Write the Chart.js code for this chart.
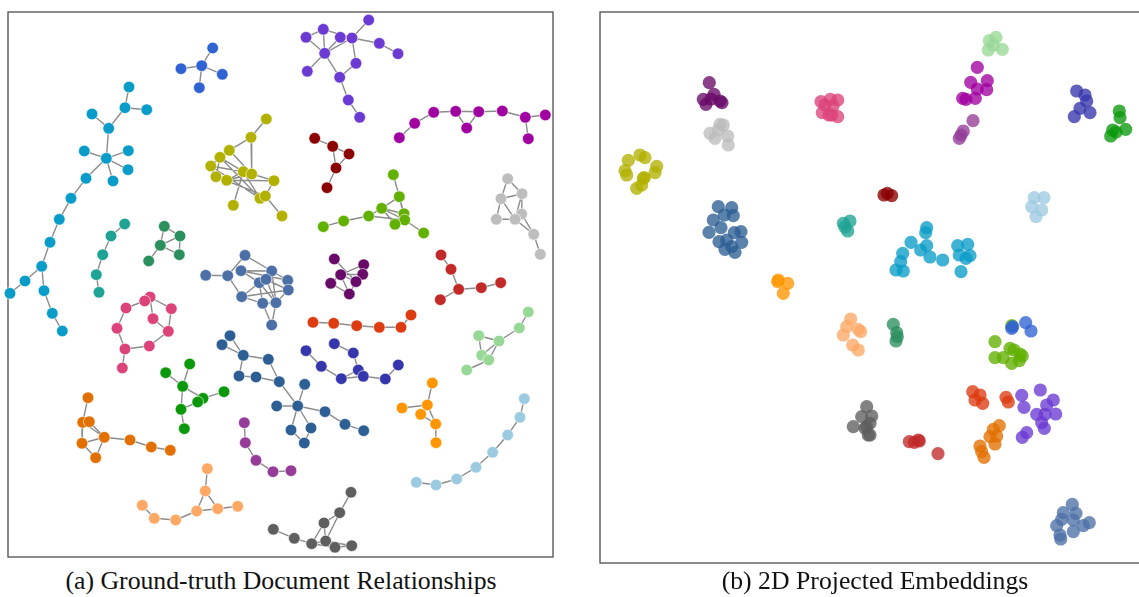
<!DOCTYPE html>
<html>
<head>
<meta charset="utf-8">
<script src="https://cdn.jsdelivr.net/npm/chart.js@4.4.0/dist/chart.umd.min.js"></script>
<style>
  html, body { margin: 0; padding: 0; background: #fff; overflow: hidden; }
  body { width: 1139px; height: 597px; position: relative; }
  canvas { position: absolute; }
  #graphCanvas { left: 0; top: 0; }
  #embedCanvas { left: 590px; top: 0; }
  .caption {
    position: absolute; top: 566px; font-family: 'Liberation Serif', 'DejaVu Serif', serif;
    font-size: 26px; line-height: 30px; color: #111; white-space: nowrap;
    transform: translateX(-50%) scaleX(0.99);
  }
</style>
</head>
<body>
<canvas id="graphCanvas" width="565" height="565"></canvas>
<canvas id="embedCanvas" width="570" height="575"></canvas>
<div class="caption" style="left:281px">(a) Ground-truth Document Relationships</div>
<div class="caption" style="left:875px">(b) 2D Projected Embeddings</div>
<script>
// cluster colours (shared by both panels)
const cBlue = '#2f63d3', cCyan = '#0a9cc8', cTeal = '#1fa394', cSea = '#2b8f5e';
const cOlive = '#b2b100', cSteel = '#4c70a6', cDarkSteel = '#2d5f94', cPurple = '#6a3ad2';
const cMagenta = '#a0009f', cDarkRed = '#8b0000', cYGreen = '#62b000', cLGray = '#bdbdbd';
const cRed = '#c22a2a', cDPurple = '#680a68', cPink = '#dc437b', cGreen = '#0b990b';
const cDOrange = '#e27000', cPlum = '#953c99', cLOrange = '#fda865', cDGray = '#5f5f5f';
const cORed = '#dd3b10', cDBlue = '#3636ac', cLGreen = '#98d896', cOrange = '#ff9600';
const cLBlue = '#9ccae0';

// (a) graph: node positions and edges (index pairs)
const gBlue = [[201.7,65.7],[212.7,48],[181,68.7],[222.3,74.3],[199.3,87.7]];
const gBlueE = [[0,1],[0,2],[0,3],[0,4]];
const gCyan = [[129,87],[125,107.7],[146.7,109.7],[92,114],[108.7,128.3],[106.3,158.3],[84.3,151],[128.3,150.7],[128,169.7],[113,181],[86,178.3],[71,198.3],[59.3,219.3],[50,242.3],[41.7,266.3],[25,281],[10,293.3],[44,290.7],[52.3,313.3],[62.3,331]];
const gCyanE = [[0,1],[1,2],[1,4],[3,4],[4,5],[5,6],[5,7],[5,8],[5,9],[5,10],[10,11],[11,12],[12,13],[13,14],[14,15],[15,16],[14,17],[17,18],[18,19]];
const gTeal = [[124.7,224],[111,236],[102.7,254.7],[96.3,274.7],[99,292.3]];
const gTealE = [[0,1],[1,2],[2,3],[3,4]];
const gSea = [[164.3,226.3],[180,236],[160.3,245.3],[179.3,254.7],[148.7,261]];
const gSeaE = [[0,1],[0,2],[1,2],[2,3],[1,3],[2,4]];
const gOlive = [[266.3,119],[251,137.3],[229.3,150.3],[220,157.3],[210.7,166],[216,176.7],[226.7,180.3],[243.3,171.7],[251.7,174],[274,180.7],[260,198.3],[265.3,196],[233.3,205.3],[282,216]];
const gOliveE = [[0,1],[1,2],[1,8],[2,3],[3,4],[4,5],[5,6],[6,7],[7,8],[8,9],[9,11],[11,10],[10,7],[7,12],[11,13],[3,7],[2,8],[4,10],[5,11],[6,9],[3,5],[2,4],[6,8],[4,7],[3,10]];
const gPurple = [[368.7,20],[323.3,29.3],[306,37.3],[340.3,37.3],[352,38],[379.3,43.3],[398,53.7],[324.7,53.3],[307.3,71.3],[356,63.3],[339.7,77.3],[348.3,100],[359.7,117.3]];
const gPurpleE = [[0,4],[2,1],[1,4],[1,7],[2,7],[3,7],[4,7],[4,5],[5,6],[7,8],[7,10],[4,9],[9,10],[10,11],[11,12]];
const gMagenta = [[399.3,137.7],[414.7,123.3],[433.7,112.3],[455.7,111.3],[466.7,128],[478.7,111.7],[502.3,111],[525.3,117.3],[545.3,115],[528.3,138.7]];
const gMagentaE = [[0,1],[1,2],[2,3],[3,5],[5,6],[6,7],[7,8],[3,4],[4,5],[7,9]];
const gDarkRed = [[314.7,138.3],[332.7,146.3],[349,154],[336,168],[327,187.7]];
const gDarkRedE = [[0,1],[1,2],[1,3],[2,3],[3,4]];
const gYGreen = [[393.3,174.7],[399.3,196.7],[381.7,208.3],[404,213.7],[404.7,220],[395,224.3],[368.7,216],[343.7,221],[323.3,226.7],[423.7,233]];
const gYGreenE = [[0,1],[1,2],[1,3],[2,3],[2,5],[2,6],[6,7],[7,8],[4,9],[1,4],[3,5],[6,4],[2,4],[5,4]];
const gLGray = [[507.7,178.7],[522,193.7],[501,198.7],[521.7,214],[515,219.3],[496.3,219.3],[533.7,234.3],[540.3,254.3]];
const gLGrayE = [[0,1],[0,2],[2,1],[2,5],[2,4],[1,3],[3,4],[5,4],[4,6],[3,6],[6,7],[1,4]];
const gRed = [[441,255],[451,269.3],[458.7,289.3],[440.3,299.7],[481.3,287.7],[500.7,282.7]];
const gRedE = [[0,1],[1,2],[2,3],[2,4],[4,5]];
const gSteel = [[245,255.3],[205.7,275.3],[227.7,275.7],[241,270.7],[271.7,271],[259.3,282.7],[266,279.3],[287.7,280.3],[288.3,290],[241.7,296.7],[262.7,303.3],[276,302.7],[271.7,325]];
const gSteelE = [[1,2],[2,0],[2,9],[3,5],[0,4],[9,5],[9,10],[5,6],[6,4],[4,7],[7,8],[6,8],[5,10],[10,11],[11,8],[6,11],[4,11],[10,12],[11,12],[3,7],[5,11],[9,8],[3,4]];
const gDPurple = [[334.3,259],[363.7,264.7],[340.7,274.7],[362.7,274.3],[356,281.7],[330.7,283.3],[349.3,294]];
const gDPurpleE = [[0,4],[2,1],[2,3],[2,5],[2,4],[3,4],[1,3],[4,6],[5,6],[2,6]];
const gPink = [[150,297],[144.7,301],[126,308],[171.3,308.7],[153,318.7],[117,328.3],[168.3,331.3],[125,349],[149.3,346],[122.3,368]];
const gPinkE = [[0,1],[0,3],[1,2],[0,4],[2,5],[5,7],[7,8],[8,6],[6,3],[4,6],[7,9]];
const gGreen = [[189.7,364],[165.7,372.7],[182.7,386.3],[224,391.7],[203,398.3],[197.7,402],[181,409.3],[184.3,428.7]];
const gGreenE = [[0,2],[1,2],[2,4],[2,6],[6,5],[5,4],[4,3],[6,7]];
const gDOrange = [[88,397.7],[82.7,422.3],[89.3,421.7],[104.3,437.3],[82,443.3],[95.7,457.7],[130,440],[151.3,447],[170.3,450.3]];
const gDOrangeE = [[0,1],[1,2],[1,4],[2,3],[1,3],[4,3],[4,5],[5,3],[3,6],[6,7],[7,8]];
const gDarkSteel = [[230,335.7],[222,344.7],[243.3,355.3],[268.3,359.3],[239,376],[256,377],[279.3,381.7],[304.7,384.3],[276.7,406],[297.7,406],[325,411.7],[345,424.3],[363.7,430.7],[291,430],[311,428],[304.3,443]];
const gDarkSteelE = [[0,1],[0,2],[1,2],[2,3],[2,4],[4,5],[5,6],[3,6],[6,9],[9,7],[9,8],[9,10],[10,11],[11,12],[9,13],[9,14],[13,15],[14,15]];
const gPlum = [[244.3,422.7],[245.3,442.7],[256,460.3],[273,471.7],[291,470.7]];
const gPlumE = [[0,1],[1,2],[2,3],[3,4]];
const gLOrange = [[207.3,468.7],[205.3,491],[196.7,511],[217.7,508.7],[237.7,506.3],[142.3,505.3],[154.3,518.3],[175.7,520]];
const gLOrangeE = [[0,1],[1,2],[1,3],[2,3],[3,4],[2,7],[7,6],[6,5]];
const gDGray = [[351,492.3],[339.7,512.7],[324,523],[273.3,529.3],[294.3,538.3],[311.7,543.7],[325.7,541],[335,547.3],[351.7,545.7]];
const gDGrayE = [[0,1],[1,2],[2,6],[1,6],[2,5],[3,4],[4,5],[5,6],[6,7],[7,8],[5,7],[6,8]];
const gORed = [[313,322.3],[333.7,323.3],[356.7,325.7],[379.3,327.3],[401,327.3],[411,315]];
const gORedE = [[0,1],[1,2],[2,3],[3,4],[4,5]];
const gDBlue = [[306,350.7],[321.3,366.3],[341.3,378.7],[334.3,343.7],[353.3,353],[358.3,370],[363.3,376.3],[385.3,379],[398.3,365]];
const gDBlueE = [[0,1],[1,2],[3,4],[4,5],[2,5],[2,6],[5,6],[6,7],[7,8]];
const gLGreen = [[528.3,312],[519.3,328],[478.7,335.7],[499,341],[481.7,355.3],[488.7,360],[466.7,370]];
const gLGreenE = [[0,1],[1,3],[3,2],[2,4],[3,5],[3,4],[4,5],[5,6]];
const gOrange = [[432.3,383],[402,408],[427.3,405],[420.7,414.3],[435.7,424],[436,442.7]];
const gOrangeE = [[0,2],[2,1],[2,3],[3,4],[2,4],[4,5]];
const gLBlue = [[524.3,398.7],[520,417.3],[507.7,435],[492.7,452.3],[476,467.3],[456.7,479],[436,485],[416.3,482.3]];
const gLBlueE = [[0,1],[1,2],[2,3],[3,4],[4,5],[5,6],[6,7]];

// (b) projected embeddings
const eDPurple = [[709.3,82.7],[714,94.3],[703.3,99.3],[706,104.3],[720,101],[722,102.7],[711,99]];
const ePink = [[821,101.7],[830.3,99.3],[837.7,100],[833,106],[822.3,112.7],[829,115],[837.7,116.7],[831.7,115],[825,105]];
const eLGray = [[720,124.3],[723.3,125],[710,133.3],[715,138.3],[727.7,136],[728.3,145],[718.3,130]];
const eOlive = [[628.3,160.3],[640,155],[645,157.7],[656.7,166.3],[655,172.7],[625,170.7],[626.7,175],[643.3,178.3],[641.7,185],[636.7,188.3],[644.3,177.7]];
const eSteel = [[718.3,206.7],[731.7,207.7],[724.3,215],[733.3,215.7],[713.3,220],[721,227.7],[709,232.3],[734.3,232.7],[741,231.7],[719,241.7],[726.7,240],[741.7,242.3],[725,249.3],[735,252.3],[731.7,246.7]];
const eTeal = [[843.3,223.3],[850,221],[847.7,231],[845,227]];
const eOrange = [[778.3,280],[777.7,281.7],[787.7,283.3],[783.3,293.3]];
const eLGreen = [[996,37.3],[989.3,40.7],[988.3,50],[1002.3,49.3],[993.3,45]];
const eMagenta = [[977.3,67.3],[970.7,82.3],[987.3,80.7],[977.3,89],[986.7,89.7],[962.7,98.3],[966,99.3],[975.3,98.3]];
const ePlum = [[973,120.7],[963.3,131],[959.3,138.3],[961,135]];
const eDBlue = [[1076.7,91],[1085,95],[1086.7,101],[1080,108.3],[1074.3,116.7],[1090,112.7]];
const eGreen = [[1119.3,111],[1120,117.7],[1112.7,130],[1125.7,129.3],[1110.7,136],[1116,132]];
const eDarkRed = [[887.3,193.3],[884,195],[891.7,195.7]];
const eLBlue = [[1034.3,197.7],[1044,197.7],[1031.7,206.7],[1041.7,210],[1036,216.7]];
const eCyan = [[926.7,227.7],[925.7,232.7],[911,242.3],[926.7,245.7],[920.7,250],[930,257],[942.7,260],[902.7,253.3],[900.7,261.7],[896,270],[903.3,271],[957.7,245.7],[967.7,244.3],[959.3,255],[966,258.3],[970,255.7],[961,271.7]];
const eLOrange = [[850.7,319],[846.7,326.7],[843.3,335],[858.3,329.3],[860.7,331.7],[852.7,345],[858.3,350]];
const eDGray = [[866.7,406.7],[861.7,416.7],[853.3,426.7],[866.7,426.7],[868.3,435],[871.7,416],[870,423.3],[865,428.3],[870,435]];
const eSea = [[893.3,324.3],[896.7,332.7],[896,341],[897.3,336.7]];
const eBlue = [[1011.7,328.3],[1025.7,322.7],[1031,331],[1012.7,326.7]];
const eYGreen = [[1011.7,325.7],[995,341.7],[1010,348.3],[1020,354],[1022.3,356],[995,357.7],[1003.3,357.7],[1011.7,363.3],[1019.3,360.7],[1014,350]];
const eORed = [[972.7,391.7],[980,395],[975,400],[982.7,403.3],[1006,397.3],[1008.3,402]];
const ePurple = [[1040.3,390],[1021.7,395.3],[1053.3,400],[1046.7,405],[1024,407.3],[1036.7,414.3],[1045,414.3],[1055.7,414],[1041.7,422.7],[1044.3,428.3],[1026.7,432.7],[1022.3,437.3]];
const eDOrange = [[999.3,425.7],[993.3,429.3],[990,436.7],[996.7,436],[995,444],[980,446],[981.7,451.7],[984,457.3]];
const eRed = [[909.3,441.7],[914.3,442.3],[919.3,441],[918.3,440],[938,453.7]];
const eSlate = [[1072.3,504.3],[1063.3,512.7],[1076,513.3],[1073.3,520],[1056.7,525.7],[1083.3,525.7],[1089.3,522.7],[1073.3,531.7],[1060,535],[1060.7,539],[1061.7,519.3]];

const graphGroups = [
  [gBlue, gBlueE, cBlue], [gCyan, gCyanE, cCyan], [gTeal, gTealE, cTeal], [gSea, gSeaE, cSea],
  [gOlive, gOliveE, cOlive], [gPurple, gPurpleE, cPurple], [gMagenta, gMagentaE, cMagenta],
  [gDarkRed, gDarkRedE, cDarkRed], [gYGreen, gYGreenE, cYGreen], [gLGray, gLGrayE, cLGray],
  [gRed, gRedE, cRed], [gSteel, gSteelE, cSteel], [gDPurple, gDPurpleE, cDPurple],
  [gPink, gPinkE, cPink], [gGreen, gGreenE, cGreen], [gDOrange, gDOrangeE, cDOrange],
  [gDarkSteel, gDarkSteelE, cDarkSteel], [gPlum, gPlumE, cPlum], [gLOrange, gLOrangeE, cLOrange],
  [gDGray, gDGrayE, cDGray], [gORed, gORedE, cORed], [gDBlue, gDBlueE, cDBlue],
  [gLGreen, gLGreenE, cLGreen], [gOrange, gOrangeE, cOrange], [gLBlue, gLBlueE, cLBlue]
];

const embedGroups = [
  [eBlue, cBlue], [eDPurple, cDPurple], [ePink, cPink], [eLGray, cLGray], [eOlive, cOlive],
  [eSteel, cDarkSteel], [eTeal, cTeal], [eOrange, cOrange], [eLGreen, cLGreen], [eMagenta, cMagenta],
  [ePlum, cPlum], [eDBlue, cDBlue], [eGreen, cGreen], [eDarkRed, cDarkRed], [eLBlue, cLBlue],
  [eCyan, cCyan], [eLOrange, cLOrange], [eDGray, cDGray], [eSea, cSea], [eYGreen, cYGreen],
  [eORed, cORed], [ePurple, cPurple], [eDOrange, cDOrange], [eRed, cRed], [eSlate, cSteel]
];

const toPt = p => ({ x: p[0], y: p[1] });

function withAlpha(hex, a) {
  const n = parseInt(hex.slice(1), 16);
  return `rgba(${n >> 16}, ${(n >> 8) & 255}, ${n & 255}, ${a})`;
}

// frame around the plotting area
const framePlugin = {
  id: 'frame',
  beforeDatasetsDraw(chart) {
    const { ctx, chartArea: a } = chart;
    ctx.save();
    ctx.strokeStyle = '#4d4d4d';
    ctx.lineWidth = 1.3;
    ctx.strokeRect(a.left, a.top, a.right - a.left, a.bottom - a.top);
    ctx.restore();
  }
};

function baseOptions(xMin, xMax, yMin, yMax, pad) {
  return {
    responsive: false,
    animation: false,
    events: [],
    layout: { padding: pad },
    plugins: { legend: { display: false }, tooltip: { enabled: false } },
    scales: {
      x: { type: 'linear', min: xMin, max: xMax, display: false },
      y: { type: 'linear', min: yMin, max: yMax, reverse: true, display: false }
    }
  };
}

// (a) edges as one broken line, nodes one dataset per cluster
const edgePts = [];
graphGroups.forEach(([nodes, edges]) => {
  edges.forEach(([a, b]) => {
    edgePts.push(toPt(nodes[a]), toPt(nodes[b]), { x: null, y: null });
  });
});

const graphSets = graphGroups.map(([nodes, , color]) => ({
  data: nodes.map(toPt),
  backgroundColor: color,
  borderColor: 'rgba(255,255,255,0.75)',
  borderWidth: 0.8,
  pointRadius: 5.8,
  clip: false,
  order: 0
}));
graphSets.push({
  data: edgePts,
  showLine: true,
  spanGaps: false,
  borderColor: '#8c8c8c',
  borderWidth: 1.4,
  pointRadius: 0,
  tension: 0,
  clip: false,
  order: 1
});

new Chart(document.getElementById('graphCanvas'), {
  type: 'scatter',
  data: { datasets: graphSets },
  options: baseOptions(8, 553, 12, 557, { left: 8, top: 12, right: 12, bottom: 8 }),
  plugins: [framePlugin]
});

// (b) embeddings
const embedSets = embedGroups.map(([pts, color]) => ({
  data: pts.map(toPt),
  backgroundColor: withAlpha(color, 0.78),
  borderWidth: 0,
  pointRadius: 6.6,
  clip: false
}));

new Chart(document.getElementById('embedCanvas'), {
  type: 'scatter',
  data: { datasets: embedSets },
  options: baseOptions(600, 1150, 12, 563, { left: 10, top: 12, right: 10, bottom: 12 }),
  plugins: [framePlugin]
});
</script>
</body>
</html>
